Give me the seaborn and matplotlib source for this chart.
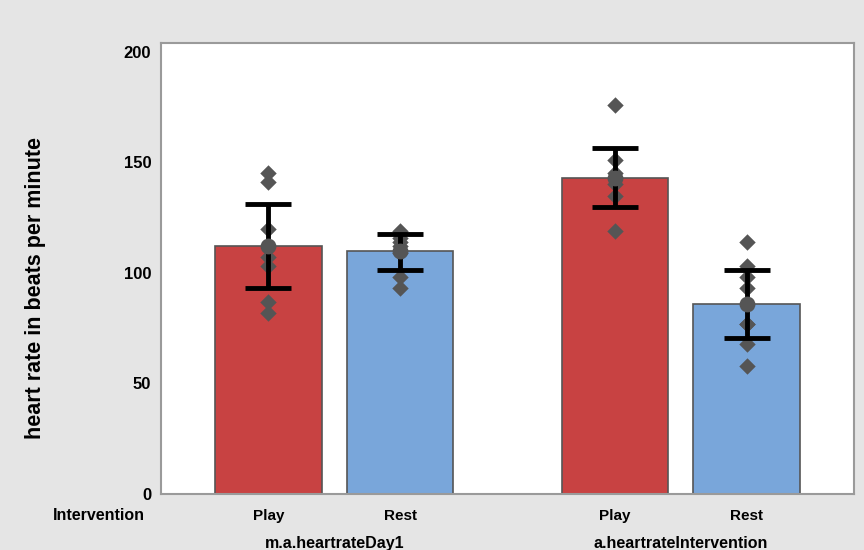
import numpy as np
import pandas as pd
import matplotlib
matplotlib.use("Agg")
import matplotlib.pyplot as plt
import matplotlib.transforms as mtransforms
import seaborn as sns

# data
groups = ["m.a.heartrateDay1", "a.heartrateIntervention"]
interventions = ["Play", "Rest"]
bar_means = [112, 110, 143, 86]          # order: g1 Play, g1 Rest, g2 Play, g2 Rest
err_low = [93, 101.5, 130, 70.5]
err_high = [131, 117.5, 156.5, 101.5]
points_g1_play = [145, 141, 120, 107, 103, 87, 82]
points_g1_rest = [119, 116, 114, 112, 109, 98, 93]
points_g2_play = [176, 151, 145, 140, 135, 119]
points_g2_rest = [114, 103, 98, 93, 77, 77, 68, 58]

colors = ["#c84242", "#79a6da"]

sns.set_style("white")
plt.rcParams["font.family"] = ["Liberation Sans", "DejaVu Sans"]
plt.rcParams["text.color"] = "black"
plt.rcParams["xtick.labelcolor"] = "black"
plt.rcParams["ytick.labelcolor"] = "black"

bars = pd.DataFrame({
    "group": [g for g in groups for _ in interventions],
    "intervention": interventions * 2,
    "hr": bar_means,
})
point_sets = [points_g1_play, points_g1_rest, points_g2_play, points_g2_rest]

fig = plt.figure(figsize=(8.64, 5.5), dpi=100, facecolor="#e5e5e5")
ax = fig.add_axes([161 / 864, 56 / 550, 693 / 864, 451 / 550])
ax.set_facecolor("white")

sns.barplot(data=bars, x="group", y="hr", hue="intervention", order=groups,
            hue_order=interventions, palette=colors, saturation=1, errorbar=None,
            width=0.76, gap=0.19, edgecolor="#555555", linewidth=1.2, legend=False, ax=ax)

# bar centres, left to right
centres = sorted(p.get_x() + p.get_width() / 2 for p in ax.patches)

for i, xc in enumerate(centres):
    pts = point_sets[i]
    ax.scatter([xc] * len(pts), pts, marker="D", s=70, color="#555555", zorder=3, linewidths=0)
    ax.errorbar(xc, bar_means[i],
                yerr=[[bar_means[i] - err_low[i]], [err_high[i] - bar_means[i]]],
                fmt="none", ecolor="black", elinewidth=3.5, capsize=16.5, capthick=3.5, zorder=4)
    ax.scatter([xc], [bar_means[i]], marker="o", s=130, color="#555555", zorder=5, linewidths=0)

ax.set_xlim(-0.5, 1.5)
ax.set_ylim(0, 204)
ax.set_yticks([0, 50, 100, 150, 200])
ax.set_xticks(centres)
ax.set_xticklabels(interventions * 2)
ax.tick_params(axis="x", length=5, color="#aaaaaa", labelsize=11, pad=6, labelcolor="black")
ax.tick_params(axis="y", length=5, color="#aaaaaa", labelsize=12, pad=2, labelcolor="black")
for lab in ax.get_xticklabels() + ax.get_yticklabels():
    lab.set_fontweight("bold")
ax.set_xlabel("")
ax.set_ylabel("")
fig.text(36 / 864, 0.477, "heart rate in beats per minute", rotation=90,
         ha="center", va="center", fontsize=15.5, fontweight="bold", color="black")

for s in ax.spines.values():
    s.set_color("#9a9a9a")
    s.set_linewidth(1.5)

trans = mtransforms.blended_transform_factory(ax.transData, ax.transAxes)
for gi, g in enumerate(groups):
    ax.text(gi, -0.11, g, transform=trans, ha="center", va="center",
            fontsize=11.5, fontweight="bold", color="black")
ax.text(-0.546, -0.047, "Intervention", transform=trans, ha="right", va="center",
        fontsize=11.5, fontweight="bold", color="black")

plt.savefig("out.png", dpi=100, facecolor=fig.get_facecolor())
plt.close()
